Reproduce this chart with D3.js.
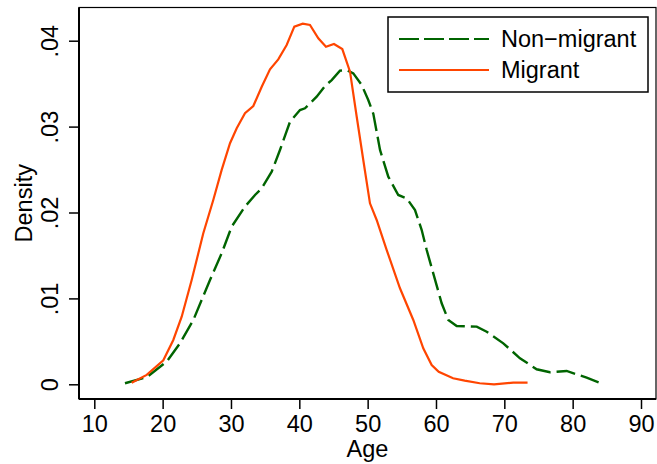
<!DOCTYPE html>
<html>
<head>
<meta charset="utf-8">
<script src="https://cdn.jsdelivr.net/npm/d3@7"></script>
<style>
  body { margin: 0; background: #fff; }
  text { font-family: "Liberation Sans", Arial, Helvetica, sans-serif; fill: #000; }
</style>
</head>
<body>
<svg id="chart" width="657" height="464"></svg>
<script>
// kernel density of age
var migrantAge = [15.47, 17.67, 20.1, 21.56, 22.79, 24.25, 25.95, 27.41, 28.64, 29.86, 30.84, 32.05,
  33.27, 34.5, 35.71, 36.92, 38.15, 39.27, 40.5, 41.56, 42.78, 43.9, 45.07, 46.29, 47.42, 48.4,
  49.36, 50.34, 51.32, 52.79, 54.73, 56.68, 58.14, 59.37, 60.4, 62.5, 64.2, 66.4, 68.5, 71.3, 73.4];
var migrantDensity = [.00019, .0011, .0028, .00516, .00787, .01214, .01758, .02146, .02496, .02806, .0298, .03155,
  .0324, .03464, .03667, .03783, .0395, .04163, .04198, .04183, .04028, .0393, .03962, .03903, .03639, .03115,
  .02611, .02107, .01913, .01563, .01118, .00749, .00419, .00225, .00145, .0007, .00042, .00012, 0, .00019, .00019];

var nonMigrantAge = [14.49, 17.67, 20.6, 22.54, 24.49, 26.93, 28.64, 30.1, 32.05, 33.52, 34.5, 35.96,
  37.17, 38.64, 40.1, 40.83, 42.54, 43.76, 44.74, 45.95, 46.93, 47.9, 49.13, 50.09, 50.83, 51.81,
  53.02, 54.48, 55.71, 56.93, 57.91, 58.64, 59.6, 60.83, 61.8, 63.03, 65.96, 67.42, 69.85, 72.29,
  74.73, 76.68, 79.12, 82.05, 84.48];
var nonMigrantDensity = [.00012, .00082, .00265, .00477, .00748, .01214, .01525, .01835, .02068, .02204, .02282, .02475,
  .02728, .03057, .03193, .03213, .03348, .03473, .03542, .03651, .03659, .0362, .03484, .03309, .0315, .02728,
  .02417, .02204, .02165, .02029, .01796, .01563, .01292, .00943, .00749, .00679, .00671, .00612, .00477, .00303,
  .00175, .0014, .00155, .00077, .00003];

var xTicks = [10, 20, 30, 40, 50, 60, 70, 80, 90];
var yTicks = [0, .01, .02, .03, .04];
var yTickLabels = ["0", ".01", ".02", ".03", ".04"];
var seriesNames = ["Non\u2212migrant", "Migrant"];

var green = "#006400", orange = "#ff4500";
var fontSize = "23.5px";

var svg = d3.select("#chart");
var box = { left: 79, top: 7.5, right: 656, bottom: 399 };

var x = d3.scaleLinear().domain([10, 90]).range([94.3, 641]);
var y = d3.scaleLinear().domain([0, .04]).range([384.3, 40.7]);

// plot region outline
svg.append("rect")
  .attr("x", box.left).attr("y", box.top)
  .attr("width", box.right - box.left).attr("height", box.bottom - box.top)
  .attr("fill", "none").attr("stroke", "#000").attr("stroke-width", 1.2);

// lines
function toPoints(ages, dens) {
  return ages.map(function (a, i) { return [a, dens[i]]; });
}
var line = d3.line()
  .x(function (d) { return x(d[0]); })
  .y(function (d) { return y(d[1]); });

svg.append("path")
  .attr("d", line(toPoints(nonMigrantAge, nonMigrantDensity)))
  .attr("fill", "none").attr("stroke", green).attr("stroke-width", 2.4)
  .attr("stroke-dasharray", "19,6");

svg.append("path")
  .attr("d", line(toPoints(migrantAge, migrantDensity)))
  .attr("fill", "none").attr("stroke", orange).attr("stroke-width", 2.2);

// axes
var xAxis = d3.axisBottom(x).tickValues(xTicks).tickSize(10).tickPadding(5);
var gx = svg.append("g").attr("transform", "translate(0," + box.bottom + ")").call(xAxis);
gx.select(".domain").attr("d", "M" + box.left + ",0H" + box.right).attr("stroke-width", 2);
gx.selectAll(".tick line").attr("stroke-width", 1.5);
gx.selectAll(".tick text").style("font-size", fontSize).attr("y", 32.5).attr("dy", null);

var yAxis = d3.axisLeft(y).tickValues(yTicks)
  .tickFormat(function (d, i) { return yTickLabels[i]; }).tickSize(10);
var gy = svg.append("g").attr("transform", "translate(" + box.left + ",0)").call(yAxis);
gy.select(".domain").attr("d", "M0," + box.top + "V" + box.bottom).attr("stroke-width", 2);
gy.selectAll(".tick line").attr("stroke-width", 1.5);
gy.selectAll(".tick text")
  .style("font-size", fontSize)
  .attr("x", null).attr("dy", null)
  .attr("text-anchor", "middle")
  .attr("transform", "translate(-21,0) rotate(-90)");

gx.select(".domain").raise();
gy.select(".domain").raise();

// axis titles
svg.append("text")
  .attr("x", (box.left + box.right) / 2).attr("y", 456.5)
  .attr("text-anchor", "middle").style("font-size", fontSize)
  .text("Age");

svg.append("text")
  .attr("transform", "translate(32," + (box.top + box.bottom) / 2 + ") rotate(-90)")
  .attr("text-anchor", "middle").style("font-size", fontSize)
  .text("Density");

// legend
var legend = svg.append("g");
legend.append("rect")
  .attr("x", 388).attr("y", 17).attr("width", 260).attr("height", 75)
  .attr("fill", "#fff").attr("stroke", "#000").attr("stroke-width", 1.5);

var rows = [
  { name: seriesNames[0], color: green, dash: "20,5", width: 2.2 },
  { name: seriesNames[1], color: orange, dash: null, width: 2.2 }
];
rows.forEach(function (r, i) {
  var ly = 39 + i * 31;
  legend.append("line")
    .attr("x1", 399).attr("x2", 489).attr("y1", ly).attr("y2", ly)
    .attr("stroke", r.color).attr("stroke-width", r.width)
    .attr("stroke-dasharray", r.dash);
  legend.append("text")
    .attr("x", 501).attr("y", ly + 8.3)
    .style("font-size", fontSize)
    .text(r.name);
});
</script>
</body>
</html>
